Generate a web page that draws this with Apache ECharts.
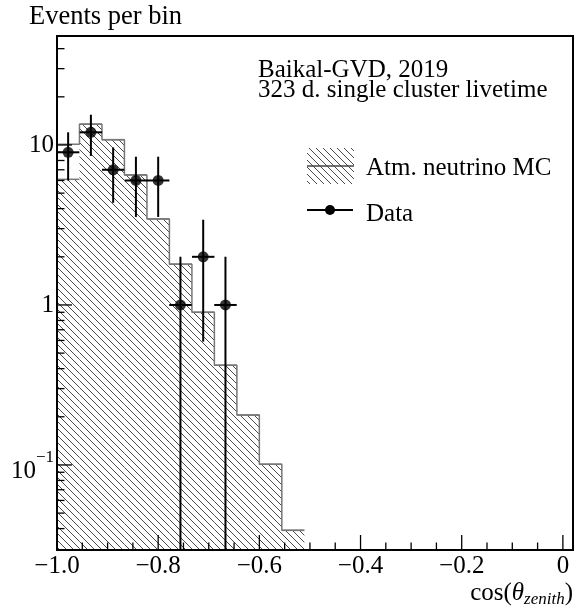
<!DOCTYPE html>
<html><head><meta charset="utf-8">
<script src="https://cdn.jsdelivr.net/npm/echarts@6/dist/echarts.min.js"></script>
<style>html,body{margin:0;padding:0;background:#fff}#c{width:582px;height:609px}</style>
</head><body><div id="c"></div>
<script>
// ---- data ----
const binEdges = [-1.0, -0.9556, -0.9111, -0.8667, -0.8222, -0.7778, -0.7333, -0.6889, -0.6444, -0.6, -0.5556, -0.5111];
const mcLine  = [10.1, 13.5, 10.8, 6.5, 3.45, 1.8, 0.9, 0.42, 0.205, 0.101, 0.039];
const mcHatch = [6.1, 13.5, 10.8, 6.5, 3.45, 1.8, 0.9, 0.42, 0.205, 0.101, 0.039];
const dataX = [-0.978, -0.933, -0.889, -0.844, -0.800, -0.756, -0.711, -0.667];
const dataY = [9, 12, 7, 6, 6, 1, 2, 1];
const dataErrUp   = [3.0, 3.46, 2.65, 2.45, 2.45, 1.0, 1.41, 1.0];
const dataErrDown = [3.0, 3.46, 2.65, 2.45, 2.45, 1.0, 1.41, 1.0];
const dataXErr = 0.0222;
const xMajorTicks = [-1.0, -0.8, -0.6, -0.4, -0.2, 0];
const xMinorTicks = [-0.95, -0.9, -0.85, -0.75, -0.7, -0.65, -0.55, -0.5, -0.45, -0.35, -0.3, -0.25, -0.15, -0.1, -0.05];
const yMajorTicks = [0.1, 1, 10];
const yMinorTicks = [0.04, 0.05, 0.06, 0.07, 0.08, 0.09, 0.2, 0.3, 0.4, 0.5, 0.6, 0.7, 0.8, 0.9, 2, 3, 4, 5, 6, 7, 8, 9, 20, 30, 40];
const X_MIN = -1.0, X_MAX = 0.02, Y_MIN = 0.0294, Y_MAX = 48;
const FONT = 'Liberation Serif';

function makeHatch() {
  const s = 7;
  const c = document.createElement('canvas');
  c.width = s; c.height = s;
  const g = c.getContext('2d');
  g.strokeStyle = '#4a4a4a'; g.lineWidth = 1;
  g.beginPath();
  g.moveTo(-1, -1); g.lineTo(s + 1, s + 1);
  g.moveTo(-1, s - 1); g.lineTo(1, s + 1);
  g.moveTo(s - 1, -1); g.lineTo(s + 1, 1);
  g.stroke();
  return c;
}
const hatchCanvas = makeHatch();
const hatchFill = () => ({ image: hatchCanvas, repeat: 'repeat' });

const chart = echarts.init(document.getElementById('c'), null, { renderer: 'canvas' });

function yLabel(v) {
  if (Math.abs(v - 10) < 1e-6) return '10';
  if (Math.abs(v - 1) < 1e-7) return '1';
  if (Math.abs(v - 0.1) < 1e-8) return '{b|10}{s|\u22121}';
  return '';
}
function xLabel(v) {
  if (Math.abs(v) < 1e-9) return '0';
  if (v > 0.001) return '';
  return '\u2212' + Math.abs(v).toFixed(1);
}
const txt = (x, y, s, size) => ({ type: 'text', x: x, y: y, style: { text: s, font: (size || 25) + 'px "Liberation Serif"', fill: '#000',
  align: 'left', verticalAlign: 'middle', textAlign: 'left', textVerticalAlign: 'middle' } });

const option = {
  animation: false,
  grid: { left: 57, right: 9, top: 36, bottom: 59, show: true, z: 10,
          backgroundColor: 'transparent', borderColor: '#000', borderWidth: 2 },
  xAxis: {
    type: 'value', min: X_MIN, max: X_MAX, interval: 0.2,
    axisLine: { show: false }, axisTick: { show: false }, splitLine: { show: false },
    axisLabel: { formatter: xLabel, margin: 16, verticalAlign: 'middle', color: '#000',
                 fontFamily: FONT, fontSize: 25 }
  },
  yAxis: {
    type: 'log', min: Y_MIN, max: Y_MAX, logBase: 10,
    axisLine: { show: false }, axisTick: { show: false }, splitLine: { show: false },
    axisLabel: {
      formatter: yLabel, margin: 3, color: '#000', fontFamily: FONT, fontSize: 25,
      rich: {
        b: { fontFamily: FONT, fontSize: 25, lineHeight: 25, padding: [13, 0, 0, 0], color: '#000' },
        s: { fontFamily: FONT, fontSize: 17, lineHeight: 17, padding: [0, 0, 14, 0], color: '#000' }
      }
    }
  },
  series: [
    {
      type: 'custom', z: 1, silent: true,
      data: mcHatch.map((v, i) => [binEdges[i], v, binEdges[i + 1]]),
      encode: { x: [0, 2], y: 1 },
      renderItem: (params, api) => {
        const tl = api.coord([api.value(0), api.value(1)]);
        const br = api.coord([api.value(2), Y_MIN]);
        return { type: 'group', children: [
          { type: 'rect', shape: { x: tl[0], y: tl[1], width: br[0] - tl[0], height: br[1] - tl[1] },
            style: { fill: hatchFill() } },
          { type: 'line', shape: { x1: tl[0], y1: tl[1], x2: br[0], y2: tl[1] },
            style: { stroke: '#777', lineWidth: 1.5 } }
        ] };
      }
    },
    {
      type: 'line', step: 'end', symbol: 'none', z: 2, silent: true,
      data: binEdges.map((e, i) => [e, mcLine[Math.min(i, mcLine.length - 1)]]),
      lineStyle: { color: '#777', width: 1.5 }
    },
    {
      type: 'custom', z: 3, silent: true,
      data: dataX.map((x, i) => [x, dataY[i], dataErrUp[i], dataErrDown[i]]),
      encode: { x: 0, y: 1 },
      renderItem: (params, api) => {
        const x = api.value(0), y = api.value(1);
        const hi = y + api.value(2);
        let lo = y - api.value(3); if (lo < Y_MIN) lo = Y_MIN;
        const a = api.coord([x, hi]), b = api.coord([x, lo]);
        const l = api.coord([x - dataXErr, y]), r = api.coord([x + dataXErr, y]);
        return { type: 'group', children: [
          { type: 'line', shape: { x1: a[0], y1: a[1], x2: b[0], y2: b[1] }, style: { stroke: '#000', lineWidth: 2 } },
          { type: 'line', shape: { x1: l[0], y1: l[1], x2: r[0], y2: r[1] }, style: { stroke: '#000', lineWidth: 2 } }
        ] };
      }
    },
    {
      type: 'scatter', z: 4, silent: true, symbol: 'circle', symbolSize: 11,
      itemStyle: { color: '#000' },
      data: dataX.map((x, i) => [x, dataY[i]])
    },
    {
      type: 'custom', z: 5, silent: true,
      data: xMajorTicks.map(v => [v, Y_MIN, 15]).concat(xMinorTicks.map(v => [v, Y_MIN, 7.5])),
      encode: { x: 0, y: 1 },
      renderItem: (params, api) => {
        const p = api.coord([api.value(0), Y_MIN]);
        return { type: 'line', shape: { x1: p[0], y1: p[1], x2: p[0], y2: p[1] - api.value(2) },
                 style: { stroke: '#000', lineWidth: 1.3 } };
      }
    },
    {
      type: 'custom', z: 5, silent: true,
      data: yMajorTicks.map(v => [X_MIN, v, 15]).concat(yMinorTicks.map(v => [X_MIN, v, 7.5])),
      encode: { x: 0, y: 1 },
      renderItem: (params, api) => {
        const p = api.coord([X_MIN, api.value(1)]);
        return { type: 'line', shape: { x1: p[0], y1: p[1], x2: p[0] + api.value(2), y2: p[1] },
                 style: { stroke: '#000', lineWidth: 1.3 } };
      }
    }
  ],
  graphic: [
    txt(29, 17.5, 'Events per bin', 26.5),
    txt(258, 70.5, 'Baikal-GVD, 2019'),
    txt(258, 90.3, '323 d. single cluster livetime'),
    { type: 'rect', shape: { x: 307, y: 148, width: 47, height: 36 }, style: { fill: hatchFill() } },
    { type: 'line', shape: { x1: 307, y1: 166, x2: 354, y2: 166 }, style: { stroke: '#444', lineWidth: 1.5 } },
    txt(366, 168, 'Atm. neutrino MC'),
    { type: 'line', shape: { x1: 307, y1: 210, x2: 353, y2: 210 }, style: { stroke: '#000', lineWidth: 2 } },
    { type: 'circle', shape: { cx: 330, cy: 210, r: 5 }, style: { fill: '#000' } },
    txt(366, 214, 'Data'),
    { type: 'text', x: 573, y: 606, style: {
      text: '{a|cos(}{t|\u03b8}{z|zenith}{a|)}',
      align: 'right', verticalAlign: 'bottom', textAlign: 'right', textVerticalAlign: 'bottom', fill: '#000',
      rich: {
        a: { fontFamily: FONT, fontSize: 25, lineHeight: 25, fill: '#000', color: '#000' },
        t: { fontFamily: FONT, fontSize: 25, lineHeight: 25, fontStyle: 'italic', fill: '#000', color: '#000' },
        z: { fontFamily: FONT, fontSize: 17, lineHeight: 17, fontStyle: 'italic', padding: [12, 0, 0, 0], fill: '#000', color: '#000' }
      } } }
  ]
};
chart.setOption(option);
</script></body></html>
